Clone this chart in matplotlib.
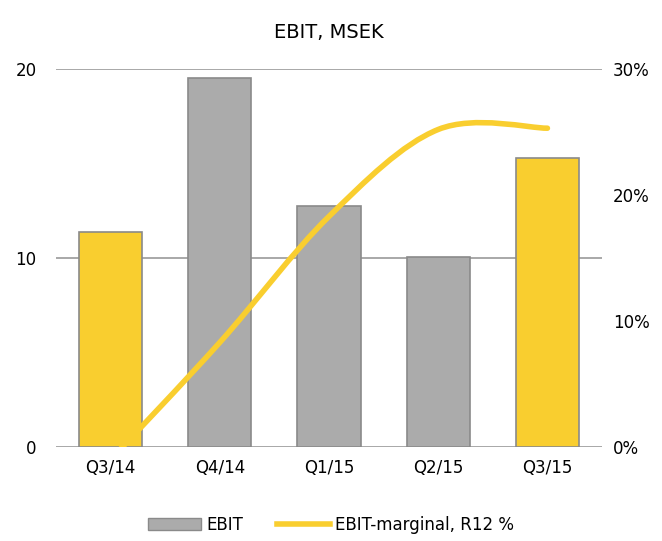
import matplotlib.pyplot as plt
from matplotlib.patches import Patch, PathPatch
from matplotlib.lines import Line2D
from matplotlib.path import Path
import numpy as np

plt.rcParams["font.family"] = ["DejaVu Sans"]

quarters = ["Q3/14", "Q4/14", "Q1/15", "Q2/15", "Q3/15"]
ebit = [11.4, 19.5, 12.75, 10.05, 15.3]
margin_pct = [-1.0, 8.3, 18.3, 25.2, 25.3]
highlight = [True, False, False, False, True]

YELLOW = "#F9CE2F"
GRAY = "#ABABAB"
EDGE = "#8A8A8A"


def smooth_path(xs, ys):
    """Excel-style smoothed line as cubic Bezier segments (Catmull-Rom)."""
    pts = np.column_stack([xs, ys]).astype(float)
    ext = np.vstack([pts[0], pts, pts[-1]])
    verts = [tuple(pts[0])]
    codes = [Path.MOVETO]
    for i in range(len(pts) - 1):
        p0, p1, p2, p3 = ext[i], ext[i + 1], ext[i + 2], ext[i + 3]
        c1 = p1 + (p2 - p0) / 6
        c2 = p2 - (p3 - p1) / 6
        verts += [tuple(c1), tuple(c2), tuple(p2)]
        codes += [Path.CURVE4] * 3
    return Path(verts, codes)


fig = plt.figure(figsize=(6.62, 5.41), dpi=100)
ax = fig.add_axes([0.0846, 0.1738, 0.8248, 0.6987])
x = np.arange(len(quarters))

ax.set_ylim(0, 20)
ax.set_xlim(-0.5, len(quarters) - 0.5)
for y in (0, 10, 20):
    ax.axhline(y, color="#9A9A9A", linewidth=1.2, zorder=1)
colors = [YELLOW if h else GRAY for h in highlight]
ax.bar(x, ebit, width=0.58, color=colors, edgecolor=EDGE, linewidth=1.2, zorder=2)

ax.set_yticks([0, 10, 20])
ax.set_xticks(x)
ax.set_xticklabels(quarters)
ax.tick_params(length=0, labelsize=12, colors="black")
ax.tick_params(axis="y", pad=14)
ax.tick_params(axis="x", pad=9)
for s in ax.spines.values():
    s.set_visible(False)

ax2 = ax.twinx()
ax2.set_ylim(0, 30)
ax2.set_yticks([0, 10, 20, 30])
ax2.set_yticklabels([f"{v}%" for v in (0, 10, 20, 30)])
ax2.tick_params(length=0, labelsize=12, pad=8)
for s in ax2.spines.values():
    s.set_visible(False)
line = PathPatch(smooth_path(x, margin_pct), facecolor="none", edgecolor=YELLOW,
                 linewidth=4.0, capstyle="round", zorder=3)
ax2.add_patch(line)

ax.set_title("EBIT, MSEK", fontsize=14, pad=22)

handles = [Patch(facecolor=GRAY, edgecolor=EDGE, linewidth=1.0),
           Line2D([0], [0], color=YELLOW, linewidth=4.0)]
fig.legend(handles, ["EBIT", "EBIT-marginal, R12 %"], loc="lower center",
           bbox_to_anchor=(0.5, -0.015), ncol=2, frameon=False, fontsize=12,
           handlelength=3.2, handleheight=0.7, columnspacing=2.0, handletextpad=0.3)

fig.savefig("out.png", dpi=100)
